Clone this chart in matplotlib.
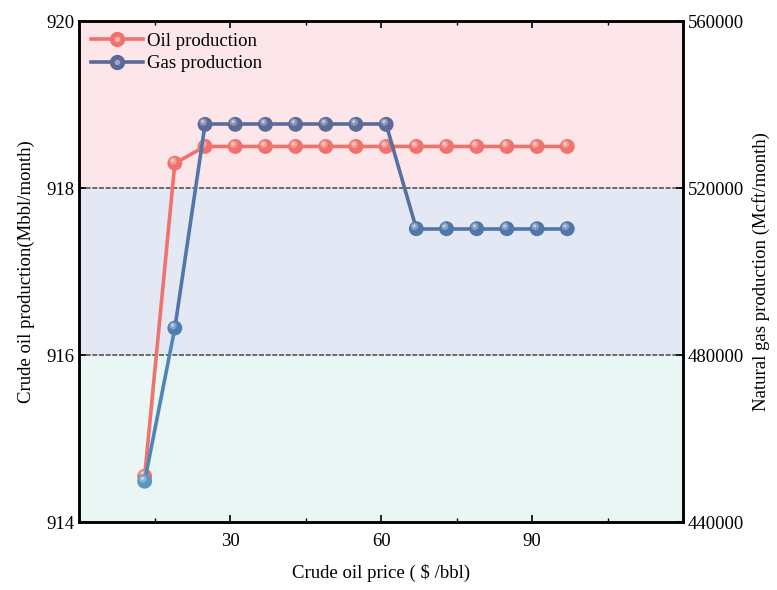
import numpy as np
import matplotlib.pyplot as plt
from matplotlib.collections import LineCollection
from matplotlib.colors import LinearSegmentedColormap
from matplotlib.lines import Line2D
from matplotlib.ticker import MultipleLocator
import matplotlib.transforms as mtransforms

plt.rcParams['font.family'] = ['Liberation Serif', 'DejaVu Serif']

# data
price = [13, 19, 25, 31, 37, 43, 49, 55, 61, 67, 73, 79, 85, 91, 97]
oil = [914.55, 918.3, 918.5, 918.5, 918.5, 918.5, 918.5, 918.5, 918.5,
       918.5, 918.5, 918.5, 918.5, 918.5, 918.5]
gas = [449800, 486500, 535300, 535300, 535300, 535300, 535300, 535300, 535300,
       510300, 510300, 510300, 510300, 510300, 510300]

oil_color = '#ef726d'
gas_cmap = LinearSegmentedColormap.from_list(
    'gas', ['#5fa2c8', '#4c80b6', '#4f78aa', '#5e6896'])

fig = plt.figure(figsize=(7.77, 5.90), dpi=100)
ax = fig.add_axes([0.102, 0.115, 0.777, 0.849])
ax2 = ax.twinx()

# background bands
ax.axhspan(918, 920, color='#fde6e9', zorder=0)
ax.axhspan(916, 918, color='#e4e8f4', zorder=0)
ax.axhspan(914, 916, color='#eaf6f3', zorder=0)
for yv in (916, 918):
    ax.axhline(yv, color='#555555', lw=1.2, ls=(0, (3, 1)), zorder=1)


def sphere(axis, x, y, colors, z):
    axis.scatter(x, y, s=115, c=colors, edgecolors='none', zorder=z)
    off = mtransforms.offset_copy(axis.transData, fig=fig, x=-1.3, y=1.6, units='points')
    axis.scatter(x, y, s=28, c='white', alpha=0.3, edgecolors='none',
                 transform=off, zorder=z + 0.1)
    off2 = mtransforms.offset_copy(axis.transData, fig=fig, x=-1.6, y=2.0, units='points')
    axis.scatter(x, y, s=5, c='white', alpha=0.5, edgecolors='none',
                 transform=off2, zorder=z + 0.2)


# oil series
ax.plot(price, oil, color=oil_color, lw=2.6, zorder=3)
sphere(ax, price, oil, oil_color, 4)

# gas series, coloured by value
gnorm = plt.Normalize(440000, 540000)
pts = np.column_stack([price, gas])
segs = np.stack([pts[:-1], pts[1:]], axis=1)
mids = (np.array(gas[:-1]) + np.array(gas[1:])) / 2
lc = LineCollection(segs, colors=gas_cmap(gnorm(mids)), lw=2.6, zorder=3)
ax2.add_collection(lc)
sphere(ax2, price, gas, gas_cmap(gnorm(np.array(gas))), 4)

ax.set_xlim(0, 120)
ax.set_ylim(914, 920)
ax2.set_ylim(440000, 560000)
ax.set_xticks([30, 60, 90])
ax.xaxis.set_minor_locator(MultipleLocator(15))
ax.set_yticks([914, 916, 918, 920])
ax2.set_yticks([440000, 480000, 520000, 560000])

ax.tick_params(which='both', direction='in', top=True, labelsize=13.5)
ax.tick_params(which='major', length=5, width=1.2)
ax.tick_params(which='minor', length=3, width=1)
ax2.tick_params(which='both', direction='in', labelsize=13.5)
ax2.tick_params(which='major', length=5, width=1.2)
ax.tick_params(axis='x', pad=8)

for a in (ax, ax2):
    for sp in a.spines.values():
        sp.set_linewidth(1.8)

ax.set_xlabel('Crude oil price ( $ /bbl)', fontsize=13.5, labelpad=10)
ax.set_ylabel('Crude oil production(Mbbl/month)', fontsize=13.5, labelpad=8)
ax2.set_ylabel('Natural gas production (Mcft/month)', fontsize=13.5, labelpad=6)


def handle(color):
    return (Line2D([], [], color=color, lw=2.6),
            Line2D([], [], color=color, marker='o', ms=11, mec='none', ls='none'),
            Line2D([], [], color='white', alpha=0.4, marker='o', ms=4, mec='none', ls='none'))


ax.legend([handle(oil_color), handle('#5e6896')], ['Oil production', 'Gas production'],
          loc='upper left', frameon=False, fontsize=13.5, handlelength=2.8,
          handletextpad=0.2, labelspacing=0.3, borderaxespad=0.2)

fig.savefig('out.png', dpi=100)
